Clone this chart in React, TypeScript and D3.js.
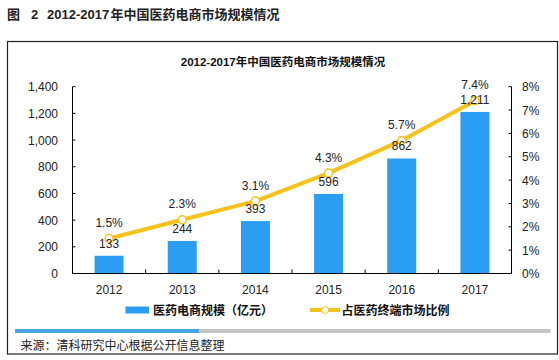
import React from "react";
import * as d3 from "d3";

const years = ["2012", "2013", "2014", "2015", "2016", "2017"];
const scaleValues = [133, 244, 393, 596, 862, 1211];
const shareValues = [1.5, 2.3, 3.1, 4.3, 5.7, 7.4];
const leftTicks = [0, 200, 400, 600, 800, 1000, 1200, 1400];
const rightTicks = [0, 1, 2, 3, 4, 5, 6, 7, 8];

const FONT = "'Liberation Sans', Arial, 'Noto Sans CJK SC', sans-serif";
const CJK = "'Liberation Sans', 'Noto Sans CJK SC', sans-serif";
const BAR = "#2B9DF2";
const LINE = "#F6C21C";

export default function App() {
  const W = 559, H = 360;
  const left = 72.5, right = 511.5, top = 86.7, bottom = 273.5;
  const xc = d3.scaleBand().domain(years).range([left, right]);
  const yL = d3.scaleLinear().domain([0, 1400]).range([bottom, top]);
  const yR = d3.scaleLinear().domain([0, 8]).range([bottom, top]);
  const fmt = d3.format(",");
  const lineGen = d3.line<number>()
    .x((_, i) => xc(years[i])! + xc.bandwidth() / 2)
    .y((d) => yR(d));
  const bw = 29;

  return (
    <svg width={W} height={H} style={{ position: "absolute", left: 0, top: 0, background: "#fff" }}>
      <rect x={0} y={0} width={W} height={H} fill="#fff" />
      <text y={18.5} fontFamily={CJK} fontWeight="bold" fontSize={13} fill="#222">
        <tspan x={7}>图</tspan>
        <tspan x={31}>2</tspan>
        <tspan x={47}>2012-2017</tspan>
        <tspan x={110.5}>年中国医药电商市场规模情况</tspan>
      </text>
      <rect x={7.5} y={41.5} width={550} height={312.5} fill="none" stroke="#222" strokeWidth={1.2} />
      <text x={283} y={65.5} textAnchor="middle" fontFamily={CJK} fontWeight="bold" fontSize={11.5} fill="#111">
        2012-2017年中国医药电商市场规模情况
      </text>

      {/* bars */}
      {scaleValues.map((v, i) => {
        const cx = xc(years[i])! + xc.bandwidth() / 2;
        return <rect key={i} x={cx - bw / 2} y={yL(v)} width={bw} height={bottom - yL(v)} fill={BAR} />;
      })}

      {/* axes */}
      <line x1={left} x2={left} y1={top} y2={bottom} stroke="#000" />
      <line x1={right} x2={right} y1={top} y2={bottom} stroke="#000" />
      <line x1={left} x2={right} y1={bottom} y2={bottom} stroke="#000" />
      {leftTicks.map((t) => (
        <g key={t}>
          <line x1={left} x2={left + 3} y1={yL(t)} y2={yL(t)} stroke="#000" />
          <text x={58} y={yL(t) + 4.5} textAnchor="end" fontFamily={FONT} fontSize={12} fill="#222">{fmt(t)}</text>
        </g>
      ))}
      {rightTicks.map((t) => (
        <g key={t}>
          <line x1={right - 3} x2={right} y1={yR(t)} y2={yR(t)} stroke="#000" />
          <text x={522} y={yR(t) + 4.5} fontFamily={FONT} fontSize={12} fill="#222">{t}%</text>
        </g>
      ))}
      {years.slice(1).map((yr) => (
        <line key={yr} x1={xc(yr)!} x2={xc(yr)!} y1={bottom - 4} y2={bottom} stroke="#000" />
      ))}
      {years.map((yr) => (
        <text key={yr} x={xc(yr)! + xc.bandwidth() / 2} y={293.5} textAnchor="middle" fontFamily={FONT} fontSize={12} fill="#222">{yr}</text>
      ))}

      {/* line */}
      <path d={lineGen(shareValues)!} fill="none" stroke={LINE} strokeWidth={4} strokeLinejoin="round" />
      {shareValues.map((v, i) => {
        const cx = xc(years[i])! + xc.bandwidth() / 2;
        return <circle key={i} cx={cx} cy={yR(v)} r={4} fill="#fff" stroke={LINE} strokeWidth={1.5} />;
      })}

      {/* labels */}
      {scaleValues.map((v, i) => {
        const cx = xc(years[i])! + xc.bandwidth() / 2;
        return <text key={"v" + i} x={cx} y={yL(v) - 8} textAnchor="middle" fontFamily={FONT} fontSize={12} fill="#222">{fmt(v)}</text>;
      })}
      {shareValues.map((v, i) => {
        const cx = xc(years[i])! + xc.bandwidth() / 2;
        return <text key={"p" + i} x={cx} y={yR(v) - 11.5} textAnchor="middle" fontFamily={FONT} fontSize={12} fill="#222">{v.toFixed(1)}%</text>;
      })}

      {/* legend */}
      <rect x={125.5} y={306.5} width={23.5} height={7} fill={BAR} />
      <text x={153} y={314.5} fontFamily={CJK} fontWeight="bold" fontSize={12} fill="#111">医药电商规模（亿元）</text>
      <line x1={310} x2={340} y1={310} y2={310} stroke={LINE} strokeWidth={4} />
      <circle cx={325} cy={310} r={3.5} fill="#fff" stroke={LINE} strokeWidth={1} />
      <text x={341.5} y={314.5} fontFamily={CJK} fontWeight="bold" fontSize={12} fill="#111">占医药终端市场比例</text>

      {/* stripe */}
      <rect x={15} y={329} width={535.5} height={4} fill="#C4C4C4" />
      <rect x={15} y={329} width={184} height={4} fill="#49A5E2" />
      <text x={20.5} y={349.5} fontFamily={CJK} fontSize={12} fill="#222">来源：清科研究中心根据公开信息整理</text>
    </svg>
  );
}
